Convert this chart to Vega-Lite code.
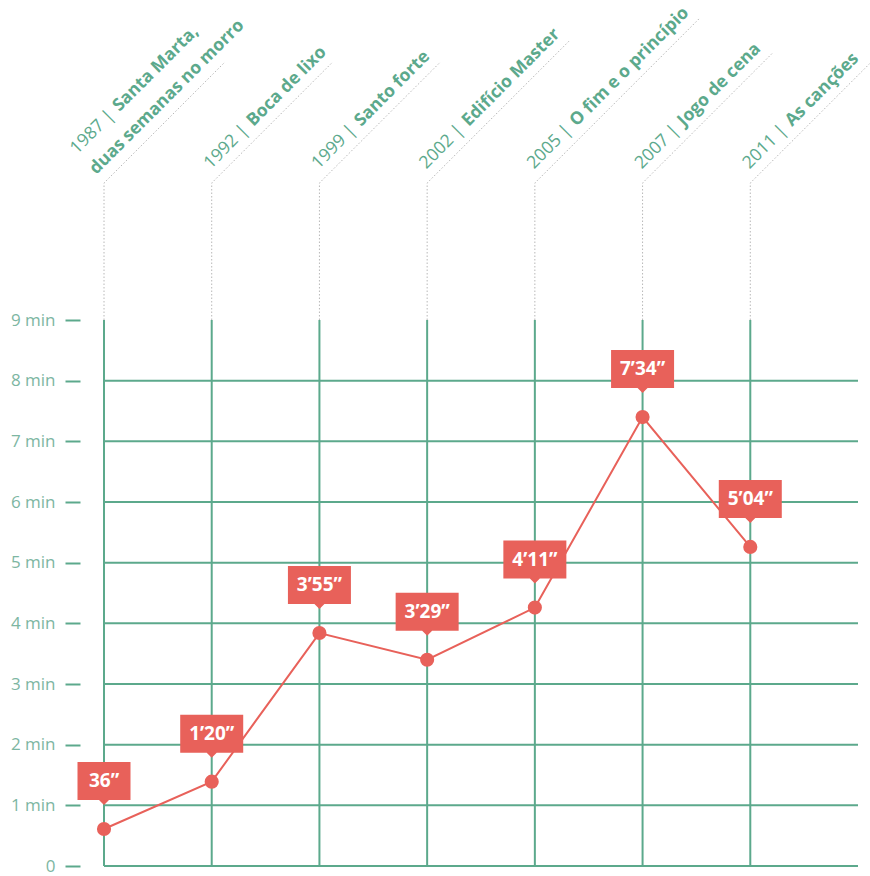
{
  "$schema": "https://vega.github.io/schema/vega-lite/v6.json",
  "width": 754,
  "height": 546,
  "autosize": {"type": "none"},
  "padding": {"left": 104, "top": 320, "right": 12, "bottom": 10},
  "background": "white",
  "config": {"view": {"stroke": null}},
  "datasets": {
    "films": [
      {"year": "1987", "yearLabel": "1987 |", "title": "Santa Marta,", "title2": "duas semanas no morro", "value": 0.61, "time": "36”"},
      {"year": "1992", "yearLabel": "1992 |", "title": "Boca de lixo", "value": 1.39, "time": "1’20”"},
      {"year": "1999", "yearLabel": "1999 |", "title": "Santo forte", "value": 3.84, "time": "3’55”"},
      {"year": "2002", "yearLabel": "2002 |", "title": "Edifício Master", "value": 3.40, "time": "3’29”"},
      {"year": "2005", "yearLabel": "2005 |", "title": "O fim e o princípio", "value": 4.26, "time": "4’11”"},
      {"year": "2007", "yearLabel": "2007 |", "title": "Jogo de cena", "value": 7.40, "time": "7’34”"},
      {"year": "2011", "yearLabel": "2011 |", "title": "As canções", "value": 5.26, "time": "5’04”"}
    ],
    "grid": [{"g": 0}, {"g": 1}, {"g": 2}, {"g": 3}, {"g": 4}, {"g": 5}, {"g": 6}, {"g": 7}, {"g": 8}]
  },
  "data": {"name": "films"},
  "layer": [
    {
      "data": {"name": "grid"},
      "mark": {"type": "rule", "color": "#5ca98c", "strokeWidth": 2},
      "encoding": {
        "y": {
          "field": "g",
          "type": "quantitative",
          "scale": {"domain": [0, 9], "nice": false},
          "axis": {
            "values": [0, 1, 2, 3, 4, 5, 6, 7, 8, 9],
            "labelExpr": "datum.value == 0 ? '0' : datum.value + ' min'",
            "offset": 24,
            "tickSize": 15,
            "tickWidth": 2,
            "tickColor": "#5ca98c",
            "domain": false,
            "grid": false,
            "labelFont": "Open Sans",
            "labelFontSize": 17,
            "labelColor": "#7db6a2",
            "labelPadding": 10,
            "labelBaseline": "middle",
            "title": null
          }
        }
      }
    },
    {
      "mark": {"type": "rule", "color": "#5ca98c", "strokeWidth": 2},
      "encoding": {
        "x": {
          "field": "year",
          "type": "ordinal",
          "bandPosition": 0,
          "scale": {"type": "band", "paddingInner": 0, "paddingOuter": 0},
          "axis": null
        },
        "y": {"datum": 0, "type": "quantitative"},
        "y2": {"datum": 9}
      }
    },
    {
      "mark": {"type": "line", "color": "#e8615a", "strokeWidth": 2},
      "encoding": {
        "x": {"field": "year", "type": "ordinal", "bandPosition": 0},
        "y": {"field": "value", "type": "quantitative"}
      }
    },
    {
      "mark": {"type": "point", "filled": false, "fillOpacity": 0, "stroke": "#b8b8b8", "strokeWidth": 1, "strokeDash": [1.5, 2], "opacity": 1, "size": 4},
      "encoding": {
        "x": {"field": "year", "type": "ordinal", "bandPosition": 0},
        "y": {"datum": 9, "type": "quantitative"},
        "shape": {
          "condition": [
            {"test": "datum.year == '2002'", "value": "M0,0L0,-137L143,-280"},
            {"test": "datum.year == '2005'", "value": "M0,0L0,-137L165,-302"},
            {"test": "datum.year == '2007'", "value": "M0,0L0,-137L130,-267"}
          ],
          "value": "M0,0L0,-137L121,-258"
        }
      }
    },
    {
      "mark": {"type": "circle", "color": "#e8615a", "size": 200, "opacity": 1},
      "encoding": {
        "x": {"field": "year", "type": "ordinal", "bandPosition": 0},
        "y": {"field": "value", "type": "quantitative"}
      }
    },
    {
      "mark": {"type": "point", "filled": true, "color": "#e8615a", "opacity": 1, "size": 4, "strokeWidth": 0},
      "encoding": {
        "x": {"field": "year", "type": "ordinal", "bandPosition": 0},
        "y": {"field": "value", "type": "quantitative"},
        "shape": {
          "condition": {"test": "length(datum.time) < 4", "value": "M-26.5,-67H26.5V-29H5L0,-24L-5,-29H-26.5Z"},
          "value": "M-31.5,-67H31.5V-29H5L0,-24L-5,-29H-31.5Z"
        }
      }
    },
    {
      "mark": {"type": "text", "color": "white", "font": "Open Sans", "fontWeight": "bold", "fontSize": 19, "align": "center", "baseline": "middle", "dy": -48},
      "encoding": {
        "x": {"field": "year", "type": "ordinal", "bandPosition": 0},
        "y": {"field": "value", "type": "quantitative"},
        "text": {"field": "time"}
      }
    },
    {
      "transform": [{"filter": "datum.year != '1987'"}],
      "mark": {"type": "text", "color": "#5ca98c", "font": "Open Sans", "fontWeight": "normal", "fontSize": 17.5, "align": "right", "baseline": "alphabetic", "angle": -45, "dx": 160, "dy": -107},
      "encoding": {
        "x": {"field": "year", "type": "ordinal", "bandPosition": 0},
        "y": {"datum": 9, "type": "quantitative"},
        "text": {"field": "yearLabel"}
      }
    },
    {
      "transform": [{"filter": "datum.year != '1987'"}],
      "mark": {"type": "text", "color": "#5ca98c", "font": "Open Sans", "fontWeight": "bold", "fontSize": 17.5, "align": "left", "baseline": "alphabetic", "angle": -45, "dx": 166, "dy": -107},
      "encoding": {
        "x": {"field": "year", "type": "ordinal", "bandPosition": 0},
        "y": {"datum": 9, "type": "quantitative"},
        "text": {"field": "title"}
      }
    },
    {
      "transform": [{"filter": "datum.year == '1987'"}],
      "mark": {"type": "text", "color": "#5ca98c", "font": "Open Sans", "fontWeight": "normal", "fontSize": 17.5, "align": "right", "baseline": "alphabetic", "angle": -45, "dx": 152, "dy": -136},
      "encoding": {
        "x": {"field": "year", "type": "ordinal", "bandPosition": 0},
        "y": {"datum": 9, "type": "quantitative"},
        "text": {"field": "yearLabel"}
      }
    },
    {
      "transform": [{"filter": "datum.year == '1987'"}],
      "mark": {"type": "text", "color": "#5ca98c", "font": "Open Sans", "fontWeight": "bold", "fontSize": 17.5, "align": "left", "baseline": "alphabetic", "angle": -45, "dx": 158, "dy": -136},
      "encoding": {
        "x": {"field": "year", "type": "ordinal", "bandPosition": 0},
        "y": {"datum": 9, "type": "quantitative"},
        "text": {"field": "title"}
      }
    },
    {
      "transform": [{"filter": "datum.year == '1987'"}],
      "mark": {"type": "text", "color": "#5ca98c", "font": "Open Sans", "fontWeight": "bold", "fontSize": 17.5, "align": "left", "baseline": "alphabetic", "angle": -45, "dx": 97, "dy": -108},
      "encoding": {
        "x": {"field": "year", "type": "ordinal", "bandPosition": 0},
        "y": {"datum": 9, "type": "quantitative"},
        "text": {"field": "title2"}
      }
    }
  ]
}
